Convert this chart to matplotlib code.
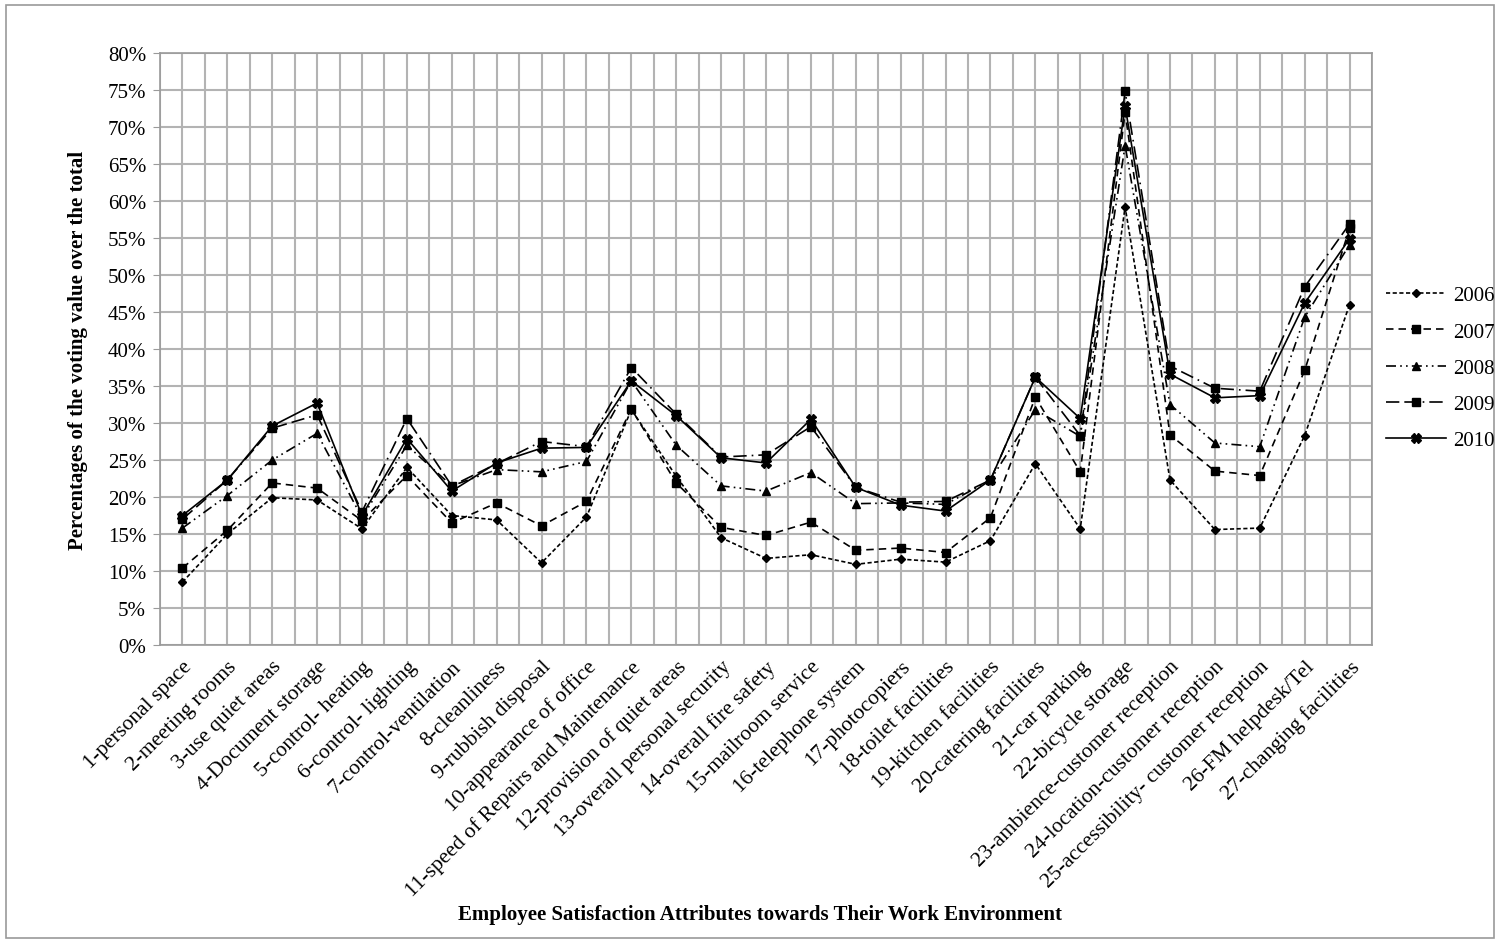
import matplotlib
matplotlib.use("Agg")
import matplotlib.pyplot as plt
import matplotlib.transforms as mtransforms
from matplotlib.ticker import FuncFormatter, MultipleLocator
from matplotlib.patches import Rectangle

categories = ["1-personal space", "2-meeting rooms", "3-use quiet areas", "4-Document storage",
              "5-control- heating", "6-control- lighting", "7-control-ventilation", "8-cleanliness",
              "9-rubbish disposal", "10-appearance of office", "11-speed of Repairs and Maintenance",
              "12-provision of quiet areas", "13-overall personal security", "14-overall fire safety",
              "15-mailroom service", "16-telephone system", "17-photocopiers", "18-toilet facilities",
              "19-kitchen facilities", "20-catering facilities", "21-car parking", "22-bicycle storage",
              "23-ambience-customer reception", "24-location-customer reception",
              "25-accessibility- customer reception", "26-FM helpdesk/Tel", "27-changing facilities"]

s2006 = [8.5, 15.0, 19.9, 19.6, 15.7, 24.0, 17.5, 16.9, 11.1, 17.3, 31.8, 22.8, 14.5, 11.7, 12.2,
         10.9, 11.6, 11.2, 14.1, 24.5, 15.7, 59.2, 22.3, 15.6, 15.8, 28.3, 46.0]
s2007 = [10.4, 15.5, 21.9, 21.2, 16.8, 22.9, 16.5, 19.2, 16.1, 19.4, 31.9, 21.9, 15.9, 14.8, 16.6,
         12.8, 13.1, 12.5, 17.2, 33.5, 23.4, 72.0, 28.4, 23.5, 22.9, 37.1, 56.3]
s2008 = [15.8, 20.2, 25.0, 28.6, 17.2, 27.0, 21.5, 23.7, 23.4, 24.8, 35.7, 27.0, 21.5, 20.8, 23.3,
         19.1, 19.2, 19.0, 22.3, 31.8, 28.2, 67.5, 32.5, 27.3, 26.8, 44.3, 54.1]
s2009 = [17.0, 22.3, 29.3, 31.1, 18.0, 30.6, 21.5, 24.5, 27.5, 26.8, 37.5, 31.2, 25.4, 25.7, 29.5,
         21.3, 19.3, 19.4, 22.3, 36.2, 28.3, 74.8, 37.7, 34.7, 34.3, 48.4, 56.9]
s2010 = [17.5, 22.3, 29.6, 32.7, 17.5, 27.9, 20.8, 24.6, 26.6, 26.7, 35.7, 31.0, 25.3, 24.6, 30.5,
         21.3, 18.9, 18.1, 22.3, 36.2, 30.6, 72.8, 36.6, 33.4, 33.7, 46.2, 54.9]
years = ["2006", "2007", "2008", "2009", "2010"]

plt.rcParams['font.family'] = ['Liberation Serif', 'DejaVu Serif']

fig = plt.figure(figsize=(15.01, 9.45), dpi=100)
ax = fig.add_axes([160/1501, 1-646/945, (1372-160)/1501, (646-54)/945])

x = list(range(1, len(categories) + 1))
styles = [
    dict(linestyle=(0, (2.5, 1.5)), marker='D', markersize=4),
    dict(linestyle=(0, (4.5, 3)), marker='s', markersize=6),
    dict(linestyle=(0, (6, 2.5, 1, 2.5, 1, 2.5)), marker='^', markersize=6),
    dict(linestyle=(0, (8, 3, 8, 3, 1, 3)), marker='s', markersize=6),
    dict(linestyle='-', marker='X', markersize=7),
]
for ys, lab, st in zip([s2006, s2007, s2008, s2009, s2010], years, styles):
    ax.plot(x, ys, color='black', linewidth=1.2, label=lab, zorder=3, **st)

ax.set_xlim(0.5, len(categories) + 0.5)
ax.set_ylim(0, 80)
ax.yaxis.set_major_locator(MultipleLocator(5))
ax.yaxis.set_major_formatter(FuncFormatter(lambda v, p: f"{int(round(v))}%"))
ax.set_xticks(x)
ax.set_xticks([i + 0.5 for i in range(0, len(categories) + 1)], minor=True)
ax.grid(True, which='both', axis='x', color='#b3b3b3', linewidth=1.5, zorder=0)
ax.grid(True, which='major', axis='y', color='#b3b3b3', linewidth=1.5, zorder=0)
ax.set_axisbelow(True)
for sp in ax.spines.values():
    sp.set_color('#9a9a9a')
    sp.set_linewidth(1.2)

ax.tick_params(axis='y', which='major', length=5, color='#9a9a9a', labelsize=15, pad=5)
ax.tick_params(axis='x', which='both', length=0, labelsize=15.5, pad=2)
offset = mtransforms.ScaledTranslation(0, -9/100, fig.dpi_scale_trans)
ax.set_xticklabels(categories, rotation=45, ha='right', va='top', rotation_mode='anchor')
for lbl in ax.get_xticklabels():
    lbl.set_transform(lbl.get_transform() + offset)

ax.set_ylabel("Percentages of the voting value over the total", fontsize=15, fontweight='bold', labelpad=14)
fig.text(760/1501, 1-915/945, "Employee Satisfaction Attributes towards Their Work Environment",
         ha='center', va='center', fontsize=15, fontweight='bold')

fig.legend(loc='center left', bbox_to_anchor=(1386/1501, 1-369/945), frameon=False,
           fontsize=15, handlelength=2.9, labelspacing=0.8, borderaxespad=0, handletextpad=0.3,
           borderpad=0)

fig.patches.append(Rectangle((6/1501, 6/945), 1488/1501, 933/945, transform=fig.transFigure,
                             fill=False, edgecolor='#9a9a9a', linewidth=1.2))

fig.savefig("out.png", dpi=100, facecolor='white')
